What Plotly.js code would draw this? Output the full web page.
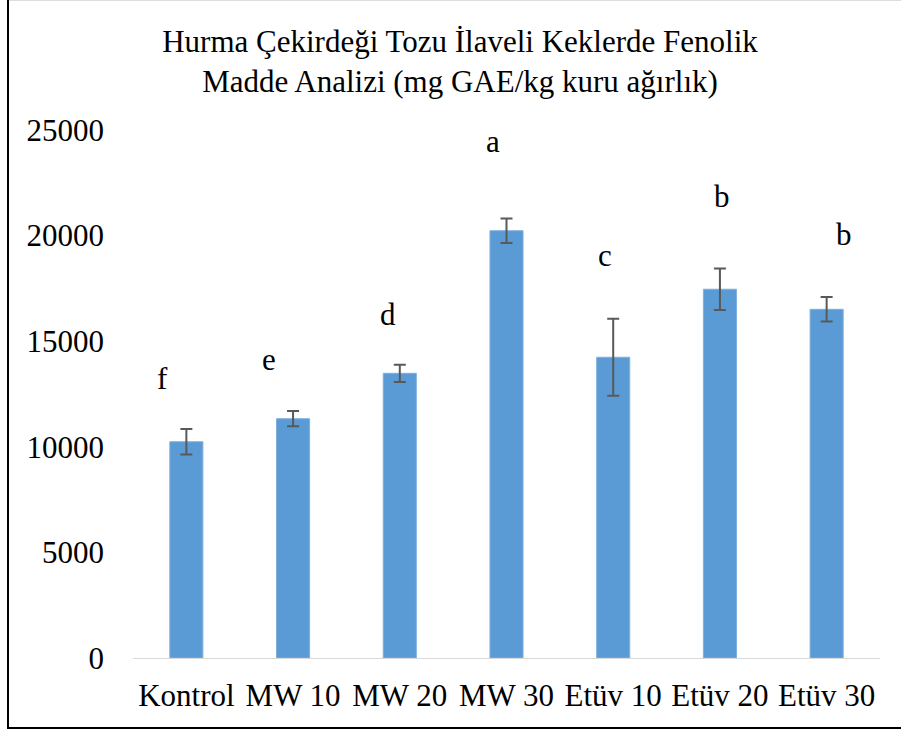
<!DOCTYPE html>
<html>
<head>
<meta charset="utf-8">
<script src="https://cdn.plot.ly/plotly-3.0.1.min.js"></script>
<style>
  html, body { margin: 0; padding: 0; background: #fff; }
  #wrap { position: relative; width: 901px; height: 733px; overflow: hidden; }
  #chart { position: absolute; left: 0; top: 0; width: 901px; height: 733px; }
  #frame { position: absolute; left: 7px; top: -2px; width: 1000px; height: 729px;
           border-left: 2px solid #000; border-bottom: 2px solid #000; pointer-events: none; }
  #topline { position: absolute; left: 9px; top: 0; width: 900px; height: 1px; background: #ddd; }
</style>
</head>
<body>
<div id="wrap">
  <div id="chart"></div>
  <div id="topline"></div>
  <div id="frame"></div>
</div>
<script>
const categories = ["Kontrol", "MW 10", "MW 20", "MW 30", "Etüv 10", "Etüv 20", "Etüv 30"];
const values = [10240, 11330, 13480, 20230, 14240, 17460, 16510];
const errors = [608, 362, 410, 578, 1823, 978, 582];
const letters = ["f", "e", "d", "a", "c", "b", "b"];
const letterHeights = [12710, 13610, 15700, 23890, 18490, 21330, 19530];
const letterOffsets = [-0.22, -0.23, -0.11, -0.13, -0.08, 0.02, 0.16];
const yTicks = [0, 5000, 10000, 15000, 20000, 25000];

const font = "'Liberation Serif', 'Times New Roman', serif";

const trace = {
  type: "bar",
  x: categories.map((c, i) => i),
  y: values,
  width: 0.31,
  marker: { color: "#5B9BD5", line: { color: "#7FB0DE", width: 1 } },
  error_y: { type: "data", array: errors, visible: true, color: "#595959", thickness: 2, width: 6 },
  hoverinfo: "skip"
};

const annotations = letters.map((t, i) => ({
  x: i + letterOffsets[i], y: letterHeights[i], xref: "x", yref: "y",
  text: t, showarrow: false, xanchor: "center", yanchor: "bottom", yshift: -8,
  font: { family: font, size: 31, color: "#000" }
}));

const layout = {
  width: 901, height: 733,
  margin: { l: 133, r: 21, t: 130, b: 75 },
  paper_bgcolor: "#fff", plot_bgcolor: "#fff",
  showlegend: false,
  title: {
    text: "Hurma Çekirdeği Tozu İlaveli Keklerde Fenolik<br>Madde Analizi (mg GAE/kg kuru ağırlık)",
    x: 460 / 901, xref: "container", xanchor: "center",
    y: 1 - 52 / 733, yref: "container", yanchor: "top",
    font: { family: font, size: 31, color: "#000" }
  },
  xaxis: {
    range: [-0.5, 6.5],
    tickmode: "array", tickvals: categories.map((c, i) => i), ticktext: categories,
    showgrid: false, zeroline: false, showline: true, linecolor: "#D9D9D9", linewidth: 1,
    ticks: "", ticklabelstandoff: 10,
    tickfont: { family: font, size: 31, color: "#000" }
  },
  yaxis: {
    range: [0, 25000],
    tickmode: "array", tickvals: yTicks, ticktext: yTicks.map(String),
    showgrid: false, zeroline: false, showline: false, ticks: "",
    ticklabelstandoff: 28,
    tickfont: { family: font, size: 31, color: "#000" }
  },
  annotations: annotations
};

Plotly.newPlot("chart", [trace], layout, { displayModeBar: false, staticPlot: true });
</script>
</body>
</html>
